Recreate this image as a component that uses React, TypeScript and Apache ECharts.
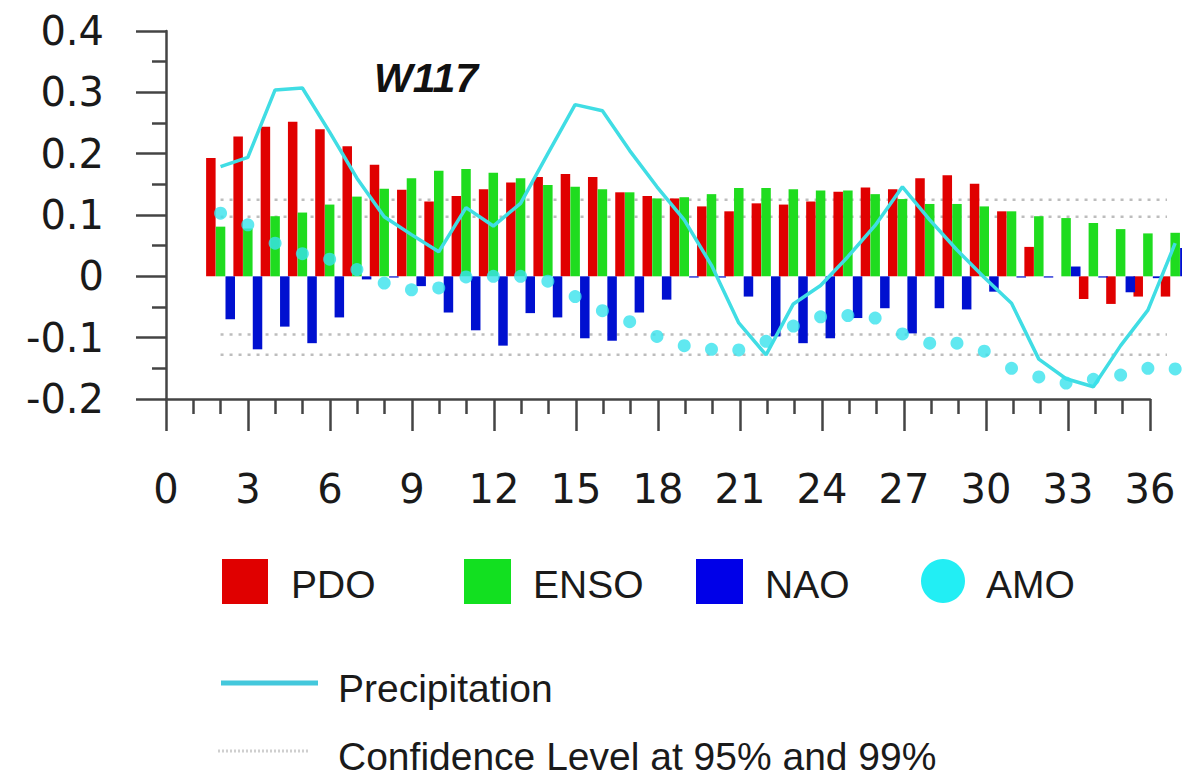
import React, { useEffect, useRef } from "react";
import * as echarts from "echarts";

const lags = [2, 3, 4, 5, 6, 7, 8, 9, 10, 11, 12, 13, 14, 15, 16, 17, 18, 19, 20, 21, 22, 23, 24, 25, 26, 27, 28, 29, 30, 31, 32, 33, 34, 35, 36, 37];
const pdo = [0.193, 0.228, 0.244, 0.252, 0.24, 0.212, 0.182, 0.141, 0.122, 0.131, 0.142, 0.153, 0.162, 0.167, 0.162, 0.137, 0.131, 0.127, 0.114, 0.106, 0.119, 0.117, 0.122, 0.138, 0.145, 0.142, 0.16, 0.165, 0.151, 0.106, 0.048, 0.0, -0.037, -0.045, -0.033, -0.033];
const enso = [0.081, 0.078, 0.098, 0.104, 0.117, 0.13, 0.143, 0.16, 0.172, 0.175, 0.169, 0.16, 0.149, 0.146, 0.142, 0.137, 0.127, 0.129, 0.134, 0.144, 0.144, 0.142, 0.14, 0.14, 0.134, 0.126, 0.118, 0.118, 0.114, 0.106, 0.098, 0.095, 0.087, 0.077, 0.07, 0.071];
const nao = [-0.07, -0.119, -0.082, -0.109, -0.067, -0.005, -0.002, -0.016, -0.059, -0.088, -0.113, -0.06, -0.067, -0.101, -0.105, -0.059, -0.038, -0.002, -0.002, -0.033, -0.098, -0.109, -0.101, -0.068, -0.052, -0.093, -0.052, -0.054, -0.025, -0.002, -0.002, 0.016, -0.002, -0.026, -0.003, 0.046];
const amo = [0.103, 0.084, 0.054, 0.037, 0.028, 0.011, -0.011, -0.022, -0.019, -0.001, 0.0, 0.0, -0.008, -0.033, -0.056, -0.074, -0.098, -0.113, -0.119, -0.12, -0.106, -0.081, -0.066, -0.064, -0.068, -0.094, -0.109, -0.109, -0.122, -0.15, -0.164, -0.174, -0.168, -0.161, -0.15, -0.151];
const precipitation = [0.179, 0.194, 0.304, 0.307, 0.235, 0.16, 0.097, 0.068, 0.04, 0.112, 0.082, 0.119, 0.2, 0.28, 0.27, 0.205, 0.146, 0.092, 0.018, -0.076, -0.128, -0.045, -0.015, 0.032, 0.083, 0.146, 0.092, 0.043, -0.002, -0.044, -0.135, -0.167, -0.18, -0.113, -0.055, 0.054];
const confidenceLevels = [0.125, 0.097, -0.095, -0.128];
const confidenceRange = [2, 36.7];

const RED = "#e00000";
const GREEN = "#1fdc1f";
const BLUE = "#0010d0";
const CYAN = "#38e2ec";
const LINE_CYAN = "#40dde4";
const AXIS = "#444";
const TEXT = "#1a1a1a";

const X_MAX = 36;
const X_MAX_EXT = 37.25;
const GRID_LEFT = 166;
const GRID_TOP = 31;
const GRID_W = 984;
const GRID_H = 368;

export default function App() {
  const ref = useRef<HTMLDivElement>(null);
  useEffect(() => {
    if (!ref.current) return;
    const chart = echarts.init(ref.current, null, { renderer: "svg" });
    const pair = (arr: number[]) => lags.map((l, i) => [l, arr[i]]);
    const legendFont = "39px 'Liberation Sans', Arial, sans-serif";
    const onData = { xAxisIndex: 1, yAxisIndex: 1 };
    const option: any = {
      animation: false,
      backgroundColor: "#ffffff",
      title: {
        text: "W117",
        left: 374,
        top: 57,
        padding: 0,
        textStyle: {
          fontFamily: "'Liberation Sans', Arial, sans-serif",
          fontSize: 41,
          fontStyle: "italic",
          fontWeight: "bold",
          color: "#111",
        },
      },
      grid: [
        { left: GRID_LEFT, top: GRID_TOP, width: GRID_W, height: GRID_H, containLabel: false },
        { left: GRID_LEFT, top: GRID_TOP, width: (GRID_W * X_MAX_EXT) / X_MAX, height: GRID_H, containLabel: false },
      ],
      xAxis: [
        {
          type: "value",
          gridIndex: 0,
          min: 0,
          max: X_MAX,
          interval: 3,
          axisLine: { show: true, onZero: false, lineStyle: { color: AXIS, width: 2.5 } },
          axisTick: { show: true, length: 32, lineStyle: { color: AXIS, width: 2.5 } },
          minorTick: { show: true, splitNumber: 3, length: 15, lineStyle: { color: AXIS, width: 2.5 } },
          splitLine: { show: false },
          minorSplitLine: { show: false },
          axisLabel: {
            margin: 70,
            fontFamily: "'DejaVu Sans', sans-serif",
            fontSize: 40,
            color: TEXT,
          },
        },
        { type: "value", gridIndex: 1, min: 0, max: X_MAX_EXT, show: false },
      ],
      yAxis: [
        {
          type: "value",
          gridIndex: 0,
          min: -0.2,
          max: 0.4,
          interval: 0.1,
          axisLine: { show: true, onZero: false, lineStyle: { color: AXIS, width: 2.5 } },
          axisTick: { show: true, length: 30, lineStyle: { color: AXIS, width: 2.5 } },
          minorTick: { show: true, splitNumber: 2, length: 14, lineStyle: { color: AXIS, width: 2.5 } },
          splitLine: { show: false },
          minorSplitLine: { show: false },
          axisLabel: {
            margin: 62,
            fontFamily: "'DejaVu Sans', sans-serif",
            fontSize: 40,
            color: TEXT,
            formatter: (v: number) => String(Math.round(v * 10) / 10),
          },
        },
        { type: "value", gridIndex: 1, min: -0.2, max: 0.4, show: false },
      ],
      series: [
        ...confidenceLevels.map((lvl) => ({
          name: "Confidence Level at 95% and 99%",
          type: "line",
          ...onData,
          data: confidenceRange.map((x) => [x, lvl]),
          symbol: "none",
          z: 1,
          lineStyle: { color: "#bdbdbd", width: 2.5, type: [3, 6] },
        })),
        {
          name: "PDO",
          type: "bar",
          ...onData,
          data: pair(pdo),
          barWidth: 9.5,
          barGap: "2%",
          z: 2,
          itemStyle: { color: RED },
        },
        {
          name: "ENSO",
          type: "bar",
          ...onData,
          data: pair(enso),
          barWidth: 9.5,
          barGap: "2%",
          z: 2,
          itemStyle: { color: GREEN },
        },
        {
          name: "NAO",
          type: "bar",
          ...onData,
          data: pair(nao),
          barWidth: 9.5,
          barGap: "2%",
          z: 2,
          itemStyle: { color: BLUE },
        },
        {
          name: "Precipitation",
          type: "line",
          ...onData,
          data: pair(precipitation),
          symbol: "none",
          z: 4,
          lineStyle: { color: LINE_CYAN, width: 3.5 },
        },
        {
          name: "AMO",
          type: "scatter",
          ...onData,
          data: pair(amo),
          symbol: "circle",
          symbolSize: 13,
          z: 5,
          itemStyle: { color: CYAN },
        },
      ],
      graphic: [
        { type: "rect", shape: { x: 222, y: 559, width: 46, height: 45 }, style: { fill: RED } },
        { type: "text", x: 291, y: 584, style: { text: "PDO", font: legendFont, fill: TEXT, verticalAlign: "middle" } },
        { type: "rect", shape: { x: 464, y: 559, width: 47, height: 45 }, style: { fill: "#12e020" } },
        { type: "text", x: 533, y: 584, style: { text: "ENSO", font: legendFont, fill: TEXT, verticalAlign: "middle" } },
        { type: "rect", shape: { x: 696, y: 559, width: 47, height: 45 }, style: { fill: "#0000e8" } },
        { type: "text", x: 765, y: 584, style: { text: "NAO", font: legendFont, fill: TEXT, verticalAlign: "middle" } },
        { type: "circle", shape: { cx: 943, cy: 581, r: 22 }, style: { fill: "#22eef4" } },
        { type: "text", x: 986, y: 584, style: { text: "AMO", font: legendFont, fill: TEXT, verticalAlign: "middle" } },
        { type: "line", shape: { x1: 221, y1: 683, x2: 318, y2: 683 }, style: { stroke: "#44c8dc", lineWidth: 5 } },
        { type: "text", x: 338, y: 688, style: { text: "Precipitation", font: legendFont, fill: TEXT, verticalAlign: "middle" } },
        { type: "line", shape: { x1: 218, y1: 751, x2: 309, y2: 751 }, style: { stroke: "#cfcfcf", lineWidth: 3, lineDash: [2, 2] } },
        { type: "text", x: 338, y: 756, style: { text: "Confidence Level at 95% and 99%", font: legendFont, fill: TEXT, verticalAlign: "middle" } },
      ],
    };
    chart.setOption(option);
    return () => chart.dispose();
  }, []);
  return (
    <div
      ref={ref}
      style={{ position: "fixed", left: 0, top: 0, width: 1182, height: 776, background: "#fff" }}
    />
  );
}
